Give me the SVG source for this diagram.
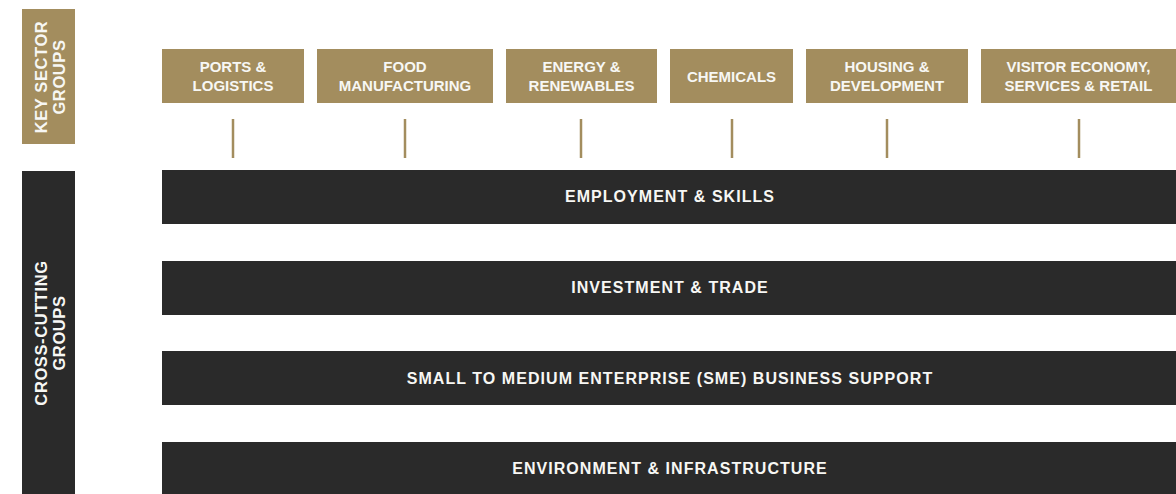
<svg xmlns="http://www.w3.org/2000/svg" width="1176" height="494" viewBox="0 0 1176 494">
  <style>
    .gold { fill: #A38D5E; }
    .dark { fill: #2A2A2A; }
    .t { font-family: "Liberation Sans", Arial, sans-serif; font-weight: bold; fill: #F7F7F4; text-anchor: middle; }
    .box { font-size: 15px; }
    .bar { font-size: 16px; letter-spacing: 1.05px; }
    .side { font-size: 16.5px; letter-spacing: 0.6px; }
    .conn { stroke: #A38D5E; stroke-width: 2.5; fill: none; }
  </style>
  <rect width="1176" height="494" fill="#FFFFFF"/>

  <g id="label-key-sector">
    <rect class="gold" x="22" y="9" width="53" height="135"/>
    <text class="t side" transform="translate(47,77) rotate(-90)">KEY SECTOR</text>
    <text class="t side" transform="translate(65,77) rotate(-90)">GROUPS</text>
  </g>
  <g id="label-cross-cutting">
    <rect class="dark" x="22" y="171" width="53" height="323"/>
    <text class="t side" transform="translate(47,333) rotate(-90)">CROSS-CUTTING</text>
    <text class="t side" transform="translate(65,333) rotate(-90)">GROUPS</text>
  </g>

  <g id="ports-logistics">
    <rect class="gold" x="162" y="49" width="142" height="54"/>
    <text class="t box" x="233" y="72">PORTS &amp;</text>
    <text class="t box" x="233" y="91">LOGISTICS</text>
  </g>
  <g id="food-manufacturing">
    <rect class="gold" x="317" y="49" width="176" height="54"/>
    <text class="t box" x="405" y="72">FOOD</text>
    <text class="t box" x="405" y="91">MANUFACTURING</text>
  </g>
  <g id="energy-renewables">
    <rect class="gold" x="506" y="49" width="151" height="54"/>
    <text class="t box" x="581.5" y="72">ENERGY &amp;</text>
    <text class="t box" x="581.5" y="91">RENEWABLES</text>
  </g>
  <g id="chemicals">
    <rect class="gold" x="670" y="49" width="123" height="54"/>
    <text class="t box" x="731.5" y="81.5">CHEMICALS</text>
  </g>
  <g id="housing-development">
    <rect class="gold" x="806" y="49" width="162" height="54"/>
    <text class="t box" x="887" y="72">HOUSING &amp;</text>
    <text class="t box" x="887" y="91">DEVELOPMENT</text>
  </g>
  <g id="visitor-economy">
    <rect class="gold" x="981" y="49" width="195" height="54"/>
    <text class="t box" x="1078.5" y="72">VISITOR ECONOMY,</text>
    <text class="t box" x="1078.5" y="91">SERVICES &amp; RETAIL</text>
  </g>

  <g id="connectors">
    <line class="conn" x1="233" y1="119" x2="233" y2="158"/>
    <line class="conn" x1="405" y1="119" x2="405" y2="158"/>
    <line class="conn" x1="581" y1="119" x2="581" y2="158"/>
    <line class="conn" x1="732" y1="119" x2="732" y2="158"/>
    <line class="conn" x1="887" y1="119" x2="887" y2="158"/>
    <line class="conn" x1="1079" y1="119" x2="1079" y2="158"/>
  </g>

  <g id="employment-skills">
    <rect class="dark" x="162" y="170" width="1014" height="54"/>
    <text class="t bar" x="670" y="202">EMPLOYMENT &amp; SKILLS</text>
  </g>
  <g id="investment-trade">
    <rect class="dark" x="162" y="261" width="1014" height="54"/>
    <text class="t bar" x="670" y="293">INVESTMENT &amp; TRADE</text>
  </g>
  <g id="sme-support">
    <rect class="dark" x="162" y="351" width="1014" height="54"/>
    <text class="t bar" x="670" y="383.5">SMALL TO MEDIUM ENTERPRISE (SME) BUSINESS SUPPORT</text>
  </g>
  <g id="environment-infrastructure">
    <rect class="dark" x="162" y="442" width="1014" height="54"/>
    <text class="t bar" x="670" y="474">ENVIRONMENT &amp; INFRASTRUCTURE</text>
  </g>
</svg>
